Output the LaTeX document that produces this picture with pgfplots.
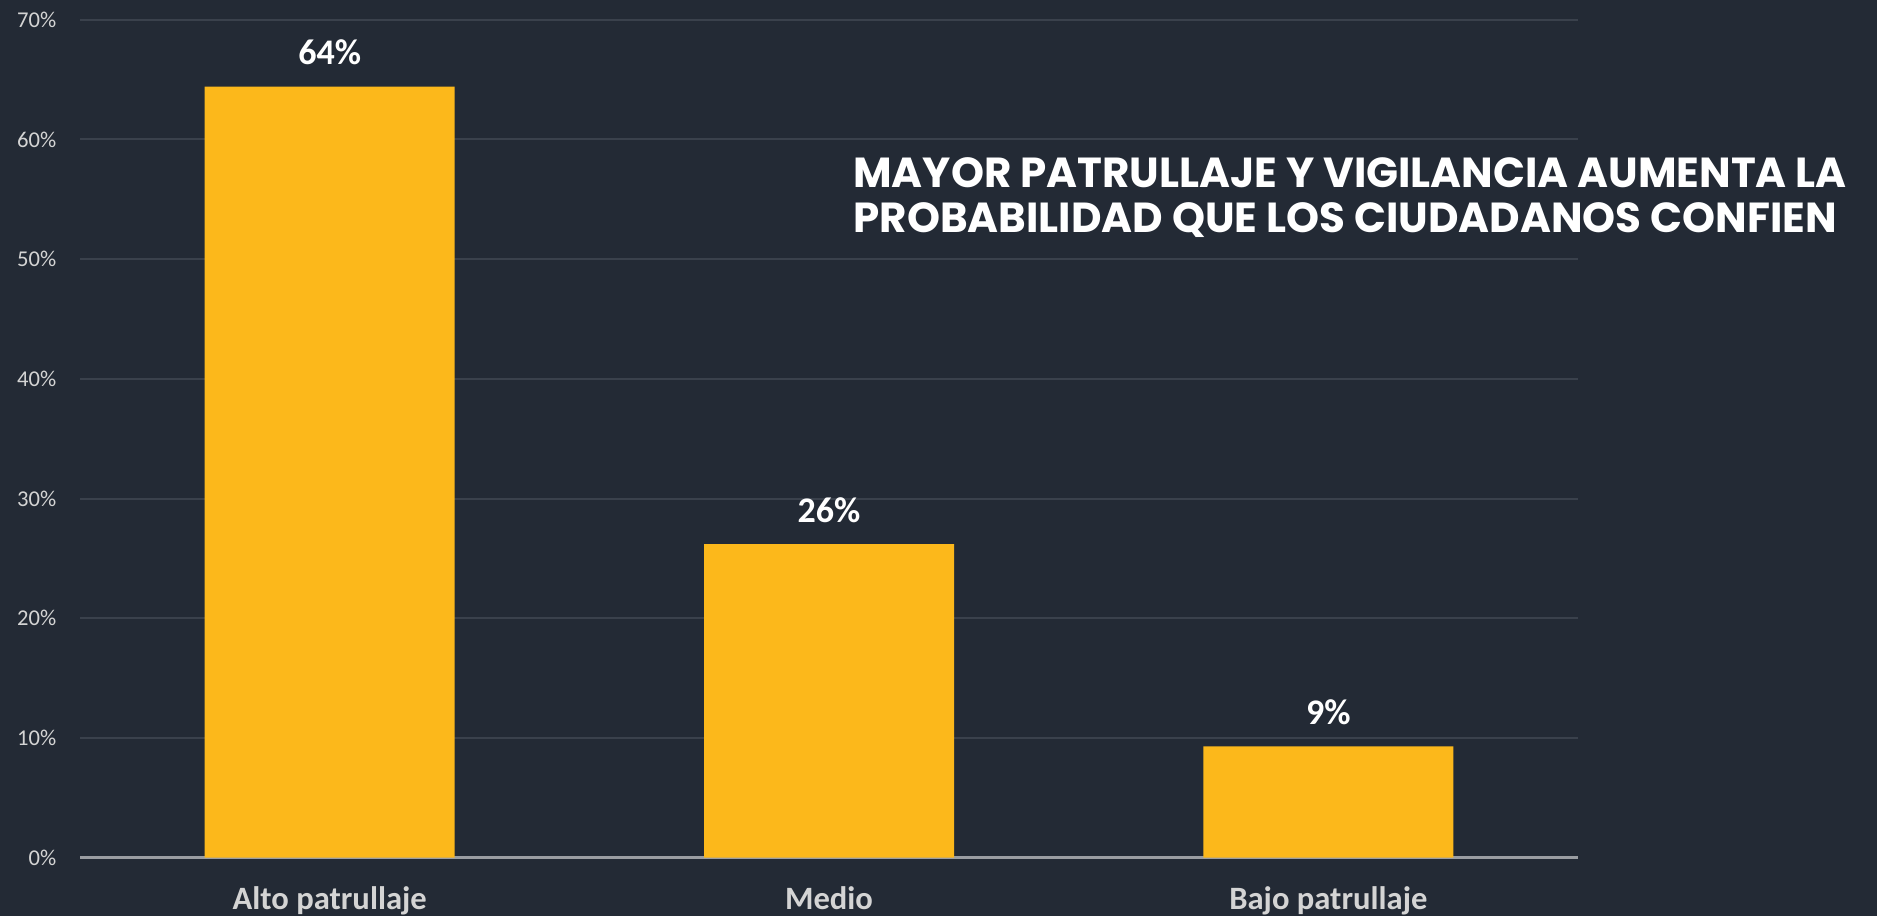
\documentclass[border=0pt]{standalone}
\usepackage{pgfplots}
\pgfplotsset{compat=1.18}
\usepackage{pgfplotstable}
\usepackage{fontspec}
\setmainfont{Carlito}
\newfontfamily\titlefont{Poppins}
\definecolor{bg}{HTML}{232A35}
\definecolor{barc}{HTML}{FCB81B}
\definecolor{gridc}{HTML}{3A414C}
\definecolor{zeroc}{HTML}{9A9DA2}
\definecolor{tickc}{HTML}{D4D4D4}
\pgfplotstableread{
x y lab
0 64.4 64\%
1 26.2 26\%
2 9.3 9\%
}\datatab
\begin{document}
\begin{tikzpicture}
\fill[bg] (0,0) rectangle (938.5pt,458pt);
\begin{axis}[
  at={(40pt,29.15pt)}, anchor=south west,
  scale only axis, width=749pt, height=419pt,
  xmin=-0.5, xmax=2.5, ymin=0, ymax=70,
  axis line style={draw=none},
  major tick length=0pt,
  xtick={0,1,2},
  xticklabels={Alto patrullaje,Medio,Bajo patrullaje},
  xticklabel style={anchor=base, inner sep=0pt, yshift=-25.7pt, font=\fontsize{16.3}{18}\selectfont\bfseries, text=tickc},
  ytick={10,20,30,40,50,60,70},
  yticklabels={10\%,20\%,30\%,40\%,50\%,60\%,70\%},
  extra y ticks={0},
  extra y tick labels={0\%},
  extra y tick style={grid style={draw=zeroc, line width=1.5pt}},
  yticklabel style={anchor=east, inner sep=0pt, xshift=-11.65pt, font=\fontsize{11.3}{13}\selectfont, text=tickc},
  ymajorgrids,
  grid style={draw=gridc, line width=1pt},
  ybar, bar width=125pt,
  nodes near coords,
  point meta=explicit symbolic,
  nodes near coords style={anchor=base, inner sep=0pt, yshift=11pt, font=\fontsize{18}{20}\selectfont\bfseries, text=white},
]
\addplot[fill=barc, draw=none] table[x=x, y=y, meta=lab] {\datatab};
\end{axis}
\node[anchor=base west, inner sep=0pt, text=white, font=\titlefont\bfseries\fontsize{21}{23}\selectfont] at (426.5pt,364pt) {MAYOR PATRULLAJE Y VIGILANCIA AUMENTA LA};
\node[anchor=base west, inner sep=0pt, text=white, font=\titlefont\bfseries\fontsize{21}{23}\selectfont] at (426.5pt,341.5pt) {PROBABILIDAD QUE LOS CIUDADANOS CONFIEN};
\pgfresetboundingbox
\useasboundingbox (0,0) rectangle (938.5pt,458pt);
\end{tikzpicture}
\end{document}
